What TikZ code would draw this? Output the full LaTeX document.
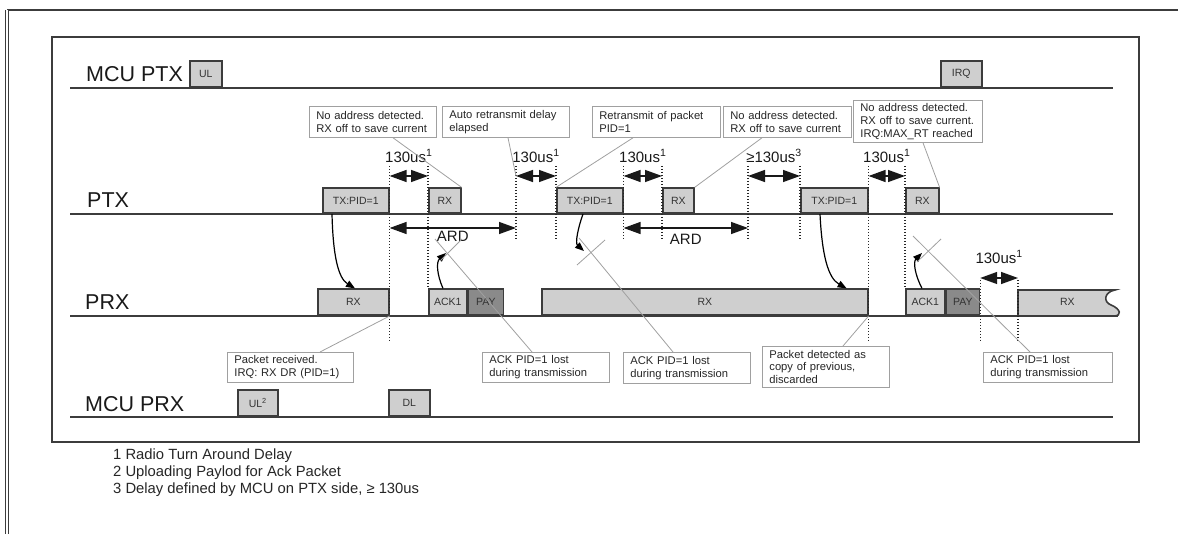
\documentclass[tikz,border=0pt]{standalone}
\usepackage{fontspec}
\setmainfont{Liberation Sans}
\usetikzlibrary{positioning, calc, arrows.meta, shapes}

\definecolor{slotfill}{RGB}{207,207,207}
\definecolor{payfill}{RGB}{138,138,138}
\definecolor{lanecol}{RGB}{60,60,60}
\definecolor{notecol}{RGB}{160,160,160}

\tikzset{
  slot/.style={draw=lanecol, line width=1.6pt, fill=slotfill, inner sep=0pt, minimum height=25pt,
    anchor=south west, text=black!80, font=\fontsize{10.5}{12}\selectfont},
  note/.style={draw=notecol, line width=0.8pt, fill=white, anchor=north west, align=left,
    inner xsep=7pt, inner ysep=0pt, minimum height=31pt, text=black!85,
    font=\fontsize{11.2}{12.7}\selectfont},
  lane/.style={draw=lanecol, line width=2pt},
  tick/.style={draw=black!85, line width=1.3pt, dash pattern=on 1.5pt off 1.5pt},
  gaptip/.tip={Triangle[length=17pt,width=12pt]},
  gap/.style={gaptip-gaptip, line width=1.4pt, draw=black!90},
  ptr/.style={draw=notecol, line width=0.8pt},
  hop/.style={-{Triangle[length=9pt,width=7pt]}, line width=1.2pt},
  lbl/.style={font=\fontsize{15}{15}\selectfont, inner sep=0pt, text=black!90},
  lanename/.style={font=\fontsize{21.5}{22}\selectfont, inner sep=0pt, anchor=base west, text=black!90}
}

\begin{document}
\begin{tikzpicture}[x=1pt, y=-1pt]
  \useasboundingbox (0,0) rectangle (1178,534);
  % frames
  \draw[lanecol, line width=1.8pt] (7,10) -- (1178,10);
  \draw[lanecol, line width=1pt, double, double distance=1.6pt] (7,10) -- (7,534);
  \draw[lanecol, line width=1.8pt] (52,37) rectangle (1139,442);

  % lanes
  \draw[lane] (70,88) -- (1113,88);
  \draw[lane] (70,214) -- (1113,214);
  \draw[lane] (70,316) -- (1118,316);
  \draw[lane] (70,417) -- (1113,417);
  \node[lanename] (mcuptx) at (86,82) {MCU PTX};
  \node[lanename] (ptx) at (87,208) {PTX};
  \node[lanename] (prx) at (85,310) {PRX};
  \node[lanename] (mcuprx) at (85,412) {MCU PRX};

  % MCU PTX
  \node[slot, minimum width=32pt, minimum height=26pt] (ul) at (189,88) {UL};
  \node[slot, minimum width=41pt, minimum height=26pt] (irq) at (940,88) {IRQ};
  % PTX
  \node[slot, minimum width=66pt] (tx1) at (322,214) {TX:PID=1};
  \node[slot, minimum width=32pt] (rx1) at (428,214) {RX};
  \node[slot, minimum width=66pt] (tx2) at (556,214) {TX:PID=1};
  \node[slot, minimum width=31pt] (rx2) at (662,214) {RX};
  \node[slot, minimum width=67pt] (tx3) at (800,214) {TX:PID=1};
  \node[slot, minimum width=33pt] (rx3) at (905,214) {RX};
  % PRX
  \node[slot, minimum width=71pt, minimum height=26pt] (prx1) at (317,316) {RX};
  \node[slot, minimum width=38pt, minimum height=26pt] (ack1) at (428,316) {ACK1};
  \node[slot, minimum width=35pt, minimum height=26pt, fill=payfill] (pay1) at (ack1.south east) {PAY};
  \node[slot, minimum width=326pt, minimum height=26pt] (prx2) at (541,316) {RX};
  \node[slot, minimum width=39pt, minimum height=26pt] (ack2) at (905,316) {ACK1};
  \node[slot, minimum width=33pt, minimum height=26pt, fill=payfill] (pay2) at (ack2.south east) {PAY};
  \filldraw[draw=lanecol, line width=1.6pt, fill=slotfill] (1018,316) -- (1018,290) -- (1115,290)
    .. controls (1104,292) and (1103,302) .. (1111,305) .. controls (1121,309) and (1122,316) .. (1114,316) -- cycle;
  \node[slot, draw=none, fill=none, minimum width=97pt, minimum height=26pt] (prx3) at (1018,316) {RX};
  % MCU PRX
  \node[slot, minimum width=40pt, minimum height=26pt] (ul2) at (237,417) {UL\textsuperscript{2}};
  \node[slot, minimum width=41pt, minimum height=26pt] (dl) at (388,417) {DL};

  \coordinate (ard1) at (516,214);
  \coordinate (ard2) at (748,214);
  \coordinate (top) at (0,166);
  \coordinate (mid) at (0,240);
  \coordinate (low) at (0,342);
  \coordinate (low2) at (0,280);
  \coordinate (gapy) at (0,176);
  \coordinate (gapy2) at (0,278);
  \coordinate (ardy) at (0,228);

  \draw[tick]
    (tx1.south east |- top) -- (tx1.south east |- low)
    (rx1.south west |- top) -- (ack1.north west)
    (ard1 |- top) -- (ard1 |- mid)
    (tx2.south west |- top) -- (tx2.south west |- mid)
    (tx2.south east |- top) -- (tx2.south east |- mid)
    (rx2.south west |- top) -- (rx2.south west |- mid)
    (ard2 |- top) -- (ard2 |- mid)
    (tx3.south west |- top) -- (tx3.south west |- mid)
    (tx3.south east |- top) -- (tx3.south east |- low)
    (rx3.south west |- top) -- (ack2.north west)
    (pay2.south east |- low2) -- (pay2.south east |- low)
    (prx3.south west |- low2) -- (prx3.south west |- low);

  % turnaround and retransmit delays
  \draw[gap] (tx1.south east |- gapy) -- node[lbl, above=13pt] {130us\textsuperscript{1}} (rx1.south west |- gapy);
  \draw[gap] (ard1 |- gapy) -- node[lbl, above=13pt] {130us\textsuperscript{1}} (tx2.south west |- gapy);
  \draw[gap] (tx2.south east |- gapy) -- node[lbl, above=13pt] {130us\textsuperscript{1}} (rx2.south west |- gapy);
  \draw[gap] (ard2 |- gapy) -- node[lbl, above=13pt] {≥130us\textsuperscript{3}} (tx3.south west |- gapy);
  \draw[gap] (tx3.south east |- gapy) -- node[lbl, above=13pt] {130us\textsuperscript{1}} (rx3.south west |- gapy);
  \draw[gap] (pay2.south east |- gapy2) -- node[lbl, above=14pt] {130us\textsuperscript{1}} (prx3.south west |- gapy2);
  \draw[gap] (tx1.south east |- ardy) -- node[lbl, below=2pt] {ARD} (ard1 |- ardy);
  \draw[gap] (tx2.south east |- ardy) -- node[lbl, below=5pt] {ARD} (ard2 |- ardy);

  % packets on air
  \draw[hop] ([xshift=10pt]tx1.south west) .. controls (333,255) and (338,278) .. ([xshift=38pt]prx1.north west);
  \draw[hop] ([xshift=15pt]ack1.north west) .. controls (437,275) and (436,262) .. (446,253);
  \draw[hop] ([xshift=27pt]tx2.south west) .. controls (578,228) and (575,243) .. (584,251);
  \draw[hop] ([xshift=20pt]tx3.south west) .. controls (822,255) and (828,278) .. ([xshift=-22pt]prx2.north east);
  \draw[hop] ([xshift=17pt]ack2.north west) .. controls (915,275) and (913,262) .. (922,253);

  % notes
  \node[note, text width=113pt] (c1) at (309,106) {No address detected.\\RX off to save current};
  \node[note, text width=113pt] (c2) at (442,106) {Auto retransmit delay\\elapsed};
  \node[note, text width=114pt] (c3) at (592,106) {Retransmit of packet\\PID=1};
  \node[note, text width=114pt] (c4) at (723,106) {No address detected.\\RX off to save current};
  \node[note, text width=115pt, minimum height=42pt] (c5) at (853,100) {No address detected.\\RX off to save current.\\IRQ:MAX\_RT reached};
  \node[note, text width=112pt, minimum height=30pt] (b1) at (227,352) {Packet received.\\IRQ: RX DR (PID=1)};
  \node[note, text width=113pt, minimum height=30pt] (b2) at (482,352) {ACK PID=1 lost\\during transmission};
  \node[note, text width=113pt] (b3) at (623,352) {ACK PID=1 lost\\during transmission};
  \node[note, text width=113pt, minimum height=41pt] (b4) at (762,346) {Packet detected as\\copy of previous,\\discarded};
  \node[note, text width=115pt, minimum height=30pt] (b5) at (983,352) {ACK PID=1 lost\\during transmission};

  \coordinate (lost1) at (435,239);
  \coordinate (lost2) at (579,238);
  \coordinate (lost3) at (913,236);
  \draw[ptr]
    ([xshift=84pt]c1.south west) -- (rx1.north east)
    ([xshift=66pt]c2.south west) -- (ard1 |- gapy)
    ([xshift=41pt]c3.south west) -- (tx2.north west)
    ([xshift=39pt]c4.south west) -- (rx2.north east)
    ([xshift=70pt]c5.south west) -- (rx3.north east)
    ([xshift=93pt]b1.north west) -- (prx1.south east)
    ([xshift=50pt]b2.north west) -- (lost1)
    ([xshift=50pt]b3.north west) -- (lost2)
    ([xshift=81pt]b4.north west) -- (prx2.south east)
    ([xshift=47pt]b5.north west) -- (lost3);
  \draw[ptr] (440,261) -- (462,239) (577,265) -- (605,240) (917,262) -- (941,239);

  % footnotes
  \node[anchor=north west, align=left, inner sep=0pt, text=black!85,
        font=\fontsize{14.8}{16.8}\selectfont] (foot) at (113,449)
    {1 Radio Turn Around Delay\\2 Uploading Paylod for Ack Packet\\3 Delay defined by MCU on PTX side, ≥ 130us};
\end{tikzpicture}
\end{document}
